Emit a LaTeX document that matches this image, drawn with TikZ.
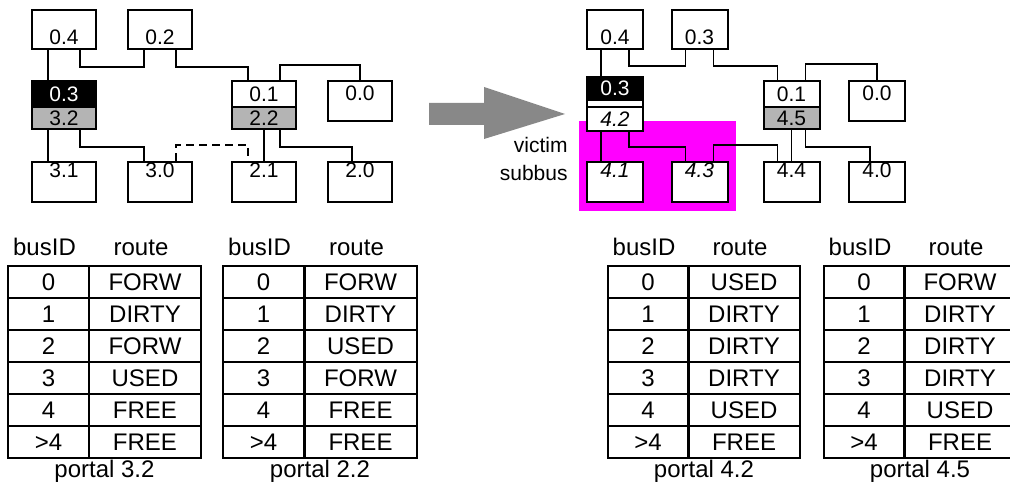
\documentclass[tikz,border=0pt]{standalone}
\usepackage{fontspec}
\setmainfont{Liberation Sans}
\usepackage{xcolor}
\usepackage{tikz}
\usetikzlibrary{calc}

\newcommand\busfont{\fontsize{10.5}{14}\selectfont}
\newcommand\tabfont{\fontsize{12}{14}\selectfont}
\definecolor{arrowgray}{RGB}{136,136,136}
\definecolor{portgray}{RGB}{180,180,180}
\definecolor{victimpink}{RGB}{255,0,255}

\tikzset{
  bus/.style={draw,line width=1pt,fill=white,minimum width=32pt,inner sep=0pt,
    font=\busfont,text height=7.5pt,text depth=0pt},
  narrow/.style={minimum width=28pt},
  topbus/.style={bus,minimum height=19.5pt,text height=14.8pt},
  lowbus/.style={bus,minimum height=20pt,text depth=12.5pt},
  sidebus/.style={bus,minimum height=20pt,text depth=7.5pt},
  portup/.style={bus,fill=black,text=white},
  portlow/.style={bus,fill=portgray},
  wire/.style={line width=0.8pt},
  idcell/.style={draw,line width=1pt,minimum width=40.5pt,minimum height=16pt,inner sep=0pt,
    font=\tabfont,text height=8.6pt,text depth=0pt},
  rtcell/.style={idcell,minimum width=56pt},
  head/.style={font=\tabfont,anchor=base,inner sep=0pt}
}

\begin{document}
\begin{tikzpicture}[x=0.5pt,y=-0.5pt,line join=miter]
  \useasboundingbox (0,0) rectangle (1010,486);
  % victim subbus area
  \fill[victimpink] (579,121) rectangle (736,211);
  % left: before
  \node[topbus] (b04) at (64,29.5) {0.4};
  \node[topbus] (b02) at (160,29.5) {0.2};
  \node[portup,minimum height=13pt] (p03) at (64,94) {0.3};
  \node[portlow,minimum height=11pt] (p32) at (64,118) {3.2};
  \node[bus,minimum height=13pt] (p01) at (264,94) {0.1};
  \node[portlow,minimum height=11pt] (p22) at (264,118) {2.2};
  \node[sidebus] (b00) at (360,101) {0.0};
  \node[lowbus] (b31) at (64,182) {3.1};
  \node[lowbus] (b30) at (160,182) {3.0};
  \node[lowbus] (b21) at (264,182) {2.1};
  \node[lowbus] (b20) at (360,182) {2.0};
  \draw[wire] ([xshift=-8pt]b04.south) -- ([xshift=-8pt]p03.north);
  \draw[wire] ([xshift=8pt]b04.south) -- ++(0,17) -| ([xshift=-8pt]b02.south);
  \draw[wire] ([xshift=8pt]b02.south) -- ++(0,17) -| ([xshift=-8pt]p01.north);
  \draw[wire] ([xshift=8pt]p01.north) -- ++(0,-15) -| (b00.north);
  \draw[wire] ([xshift=-8pt]p32.south) -- ([xshift=-8pt]b31.north);
  \draw[wire] ([xshift=8pt]p32.south) -- ++(0,17) -| ([xshift=-8pt]b30.north);
  \draw[wire,dash pattern=on 4pt off 2.5pt] ([xshift=8pt]b30.north) -- ++(0,-16) -| ([xshift=-8pt]b21.north);
  \draw[wire] (p22.south) -- (b21.north);
  \draw[wire] ([xshift=8pt]p22.south) -- ++(0,17) -| ([xshift=-4pt]b20.north);
  % big arrow
  \fill[arrowgray] (429,103) -- (484,103) -- (484,87) -- (565,114) -- (484,139)
    -- (484,125) -- (429,125) -- cycle;
  % right: after
  \node[topbus,narrow] (c04) at (615,29.5) {0.4};
  \node[topbus,narrow] (c03) at (699.5,29.5) {0.3};
  \node[portup,narrow,minimum height=11.5pt] (q03) at (615,88.5) {0.3};
  \node[bus,narrow,minimum height=3.5pt,text height=0pt] (q03gap) at (615,103.5) {};
  \node[bus,narrow,minimum height=12pt] (q42) at (615,119) {\itshape 4.2};
  \node[bus,narrow,minimum height=13pt] (q01) at (791.5,94) {0.1};
  \node[portlow,narrow,minimum height=11pt] (q45) at (791.5,118) {4.5};
  \node[sidebus,narrow] (c00) at (877,101) {0.0};
  \node[lowbus,narrow] (c41) at (615,182) {\itshape 4.1};
  \node[lowbus,narrow] (c43) at (699.5,182) {\itshape 4.3};
  \node[lowbus,narrow] (c44) at (791.5,182) {4.4};
  \node[lowbus,narrow] (c40) at (877,182) {4.0};
  \draw[wire] ([xshift=-7pt]c04.south) -- ([xshift=-7pt]q03.north);
  \draw[wire] ([xshift=7pt]c04.south) -- ++(0,16) -| ([xshift=-7pt]c03.south);
  \draw[wire] ([xshift=7pt]c03.south) -- ++(0,16) -| ([xshift=-7pt]q01.north);
  \draw[wire] ([xshift=7pt]q01.north) -- ++(0,-16) -| (c00.north);
  \draw[wire,line width=1pt] ([xshift=-7pt]q42.south) -- ([xshift=-7pt]c41.north);
  \draw[wire] ([xshift=7pt]q42.south) -- ++(0,15) -| ([xshift=-7pt]c43.north);
  \draw[wire] ([xshift=7pt]c43.north) -- ++(0,-16) -| ([xshift=-7pt]c44.north);
  \draw[wire] (q45.south) -- (c44.north);
  \draw[wire] ([xshift=7pt]q45.south) -- ++(0,17) -| ([xshift=-3.5pt]c40.north);
  \node[font=\busfont,text width=40pt,align=right,anchor=east,inner sep=0pt] (victim) at (568,159) {victim\\subbus};
  % routing tables
  \foreach \id/\rt [count=\i from 0] in {0/FORW,1/DIRTY,2/FORW,3/USED,4/FREE,>4/FREE} {
    \node[idcell] (ta-id\i) at (48.5,{282+32*\i}) {\id};
    \node[rtcell] (ta-rt\i) at (145,{282+32*\i}) {\rt};
  }
  \foreach \id/\rt [count=\i from 0] in {0/FORW,1/DIRTY,2/USED,3/FORW,4/FREE,>4/FREE} {
    \node[idcell] (tb-id\i) at (263.5,{282+32*\i}) {\id};
    \node[rtcell] (tb-rt\i) at (360.5,{282+32*\i}) {\rt};
  }
  \foreach \id/\rt [count=\i from 0] in {0/USED,1/DIRTY,2/DIRTY,3/DIRTY,4/USED,>4/FREE} {
    \node[idcell] (tc-id\i) at (648,{282+32*\i}) {\id};
    \node[rtcell] (tc-rt\i) at (744,{282+32*\i}) {\rt};
  }
  \foreach \id/\rt [count=\i from 0] in {0/FORW,1/DIRTY,2/DIRTY,3/DIRTY,4/USED,>4/FREE} {
    \node[idcell] (td-id\i) at (864,{282+32*\i}) {\id};
    \node[rtcell] (td-rt\i) at (960,{282+32*\i}) {\rt};
  }
  \node[head] (ha-id) at (44.5,255) {busID};
  \node[head] (ha-rt) at (141,255) {route};
  \node[head] (hb-id) at (259.5,255) {busID};
  \node[head] (hb-rt) at (356.5,255) {route};
  \node[head] (hc-id) at (644,255) {busID};
  \node[head] (hc-rt) at (740,255) {route};
  \node[head] (hd-id) at (860,255) {busID};
  \node[head] (hd-rt) at (956,255) {route};
  \node[head] (pa) at (104.5,477) {portal 3.2};
  \node[head] (pb) at (320,477) {portal 2.2};
  \node[head] (pc) at (704,477) {portal 4.2};
  \node[head] (pd) at (920,477) {portal 4.5};
\end{tikzpicture}
\end{document}
